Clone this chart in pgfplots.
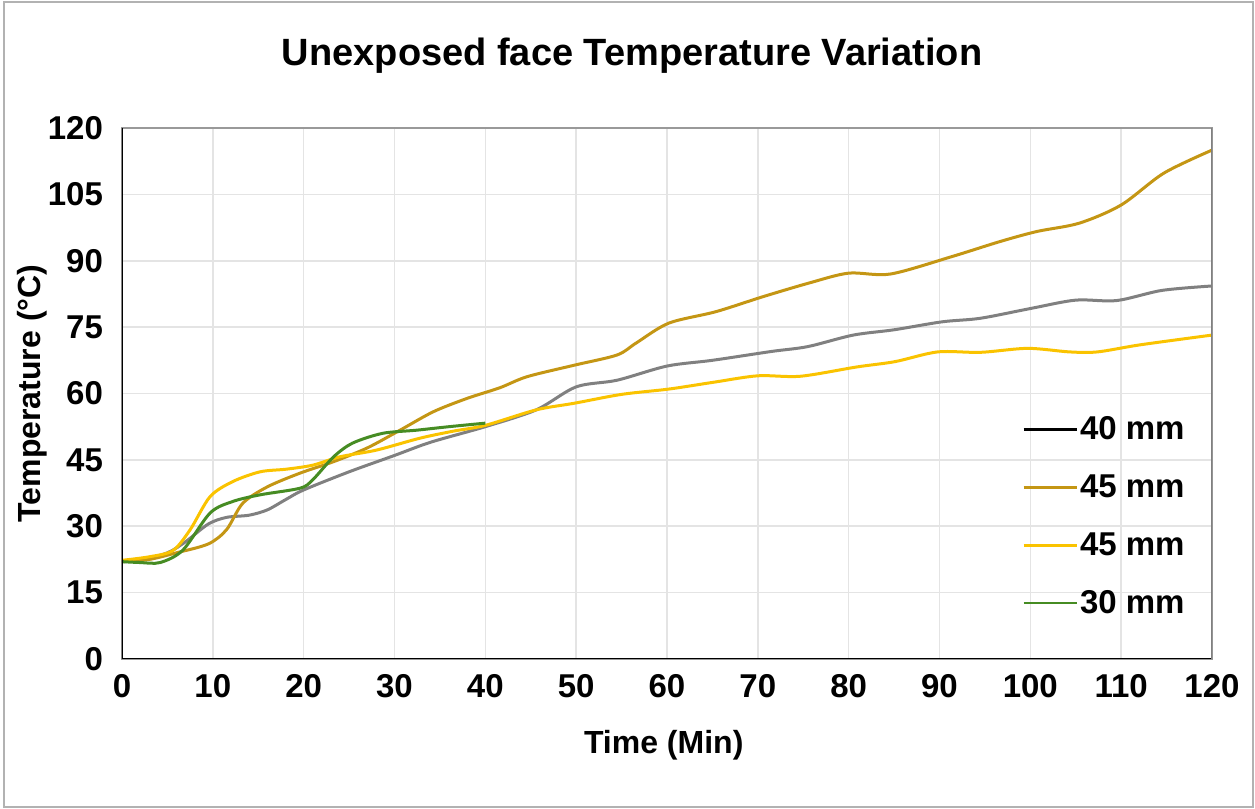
\documentclass[border=0pt]{standalone}
\usepackage{fontspec}
\setmainfont{Liberation Sans}
\usepackage{pgfplots}
\pgfplotsset{compat=1.18}

\definecolor{c40}{RGB}{128,128,128}
\definecolor{c45a}{RGB}{196,150,20}
\definecolor{c45b}{RGB}{250,195,0}
\definecolor{c30}{RGB}{70,140,35}
\definecolor{gridc}{RGB}{228,228,228}

\begin{document}
\begin{tikzpicture}
\path[use as bounding box] (-61pt,-75pt) rectangle (566.5pt,329.5pt);
\draw[gray!60, line width=0.8pt] (-59pt,-74pt) rectangle (565.5pt,328.5pt);
\begin{axis}[
    at={(0,0)}, anchor=south west,
    scale only axis, width=545pt, height=265.5pt,
    xmin=0, xmax=120, ymin=0, ymax=120,
    xtick={0,10,...,120}, ytick={0,15,...,120},
    major tick length=0pt,
    grid=major, grid style={gridc, line width=0.8pt},
    axis line style={gray!80, line width=0.8pt},
    ticklabel style={font=\fontsize{16.5}{18}\selectfont\bfseries},
    /pgf/number format/assume math mode=true,
    yticklabel style={xshift=-6pt},
    xticklabel style={yshift=-4pt},
    title={Unexposed face Temperature Variation},
    title style={font=\fontsize{19}{22}\selectfont\bfseries,
        at={(axis description cs:0.468,1.113)}, anchor=center},
    xlabel={Time (Min)},
    xlabel style={font=\fontsize{16}{18}\selectfont\bfseries,
        at={(axis description cs:0.497,-0.162)}, anchor=center},
    ylabel={Temperature (°C)},
    ylabel style={font=\fontsize{16}{18}\selectfont\bfseries,
        at={(axis description cs:-0.0826,0.5)}, anchor=center},
    legend style={draw=none, fill=none, at={(axis description cs:0.8257,0.461)},
        anchor=north west, font=\fontsize{16.5}{18}\selectfont\bfseries,
        row sep=14pt, inner sep=0pt, nodes={inner sep=1pt}},
    legend cell align=left,
    legend image code/.code={\draw[#1, line width=1.3pt] (0pt,0pt) -- (26.5pt,0pt);},
    every axis plot/.append style={line width=1.5pt, smooth, tension=0.5},
]
\addlegendimage{black}

% 40 mm
\addplot[c40, forget plot] coordinates {
 (0,22) (2,22.3) (5,24) (7,26.5) (9.5,30.5) (11.5,32) (14,32.5) (16,33.7)
 (18,36) (20,38.2) (25,42.3) (30,46) (34,49) (40,52.5) (45.6,56.3) (50,61.5)
 (54.5,63) (60,66.2) (65,67.5) (71.5,69.5) (75.5,70.6) (80.5,73.2) (85,74.4)
 (90.3,76.2) (94.5,77) (100,79.2) (105,81.1) (109.5,81) (114.5,83.3) (120,84.3)
};

% 45 mm (dark gold)
\addplot[c45a] coordinates {
 (0,22) (3,22.5) (6,24) (9.5,26) (11.5,29.2) (13.3,35.2) (16,38.9) (19.6,42)
 (23.3,44.6) (27,47.7) (30.6,51.7) (34.3,55.9) (38,58.9) (41.6,61.3) (44.6,63.8)
 (49.8,66.4) (54.5,68.7) (56.6,71.4) (60.2,75.9) (65.4,78.5) (70.6,81.9)
 (75.7,85) (80,87.2) (84.6,87) (91.3,90.9) (96.6,94.3) (100.7,96.6)
 (105.4,98.5) (110,102.6) (114.7,109.8) (120,115)
};

% 45 mm (yellow)
\addplot[c45b] coordinates {
 (0,22.3) (3,23.1) (5.6,24.5) (7.5,29.2) (9.7,36.7) (12.2,40.1) (15.2,42.3)
 (18.1,42.9) (21,43.8) (24,45.7) (28,47.2) (32.8,49.9) (36.5,51.5) (40,52.8)
 (45.6,56.3) (49.8,57.8) (55,59.8) (60.2,61) (65,62.5) (70,64) (74.7,63.9)
 (80.9,66) (85.1,67.2) (89.8,69.4) (94.5,69.3) (99.7,70.2) (104.3,69.4)
 (107.4,69.4) (112.1,71) (120,73.2)
};

% 30 mm
\addplot[c30] coordinates {
 (0,22) (2,21.8) (4.2,21.8) (6.7,24.6) (9.7,33) (12.2,35.6) (15.2,37.1)
 (19.6,38.6) (21,40.5) (23.3,45.7) (25.4,48.8) (28.7,51) (32.4,51.7)
 (36,52.5) (40,53.3)
};

\legend{40 mm, 45 mm, 45 mm, 30 mm}

\draw[black, line width=1pt] (rel axis cs:0,1) -- (rel axis cs:0,0) -- (rel axis cs:1,0);
\draw[gray, line width=1pt] (rel axis cs:1,0) -- (rel axis cs:1,1);
\end{axis}
\end{tikzpicture}
\end{document}
